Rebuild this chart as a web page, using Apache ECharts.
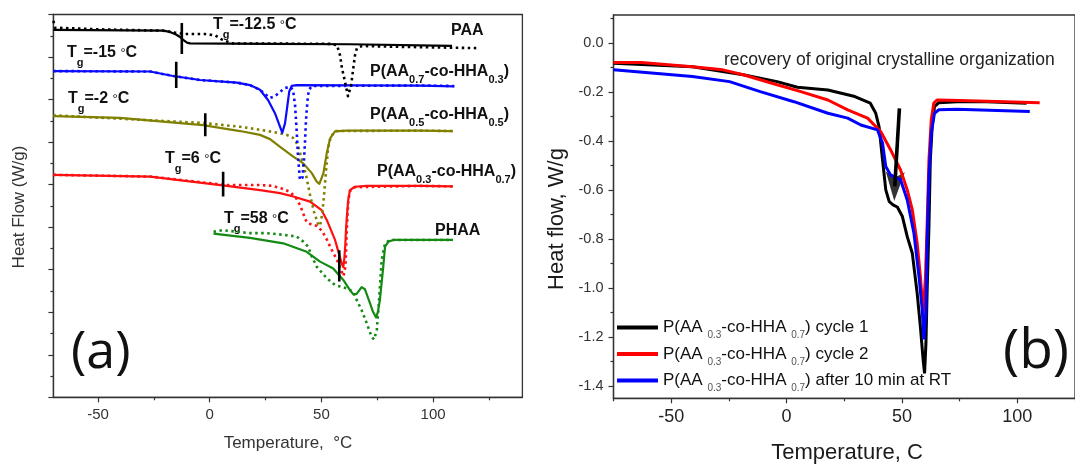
<!DOCTYPE html>
<html>
<head>
<meta charset="utf-8">
<script src="https://cdn.jsdelivr.net/npm/echarts@6/dist/echarts.min.js"></script>
<style>
  html, body { margin: 0; padding: 0; background: #fff; }
  #chart { width: 1075px; height: 465px; }
</style>
</head>
<body>
<div id="chart"></div>
<script>
// ---------- Panel (a): DSC heating traces, offset for clarity [T (°C), heat flow (a.u.)] ----------
const paaSolid = [[-70,8.64],[-20.9,8.62],[-17.8,8.59],[-15.1,8.53],[-13.3,8.47],[-12.0,8.41],[-10.2,8.34],[-8.8,8.32],[27.0,8.31],[62.8,8.30],[108.5,8.26]];
const paaDotted = [[-70,8.85],[-69.3,8.69],[-49.1,8.65],[-20.9,8.62],[-15.1,8.57],[-11.1,8.54],[-2.1,8.54],[2.4,8.51],[5.5,8.41],[10.0,8.32],[53.9,8.31],[57.0,8.28],[58.3,8.05],[59.2,7.74],[60.6,7.41],[61.9,7.08],[63.3,7.34],[64.2,7.70],[65.0,8.03],[65.9,8.21],[68.2,8.26],[85.2,8.24],[119.7,8.21]];

const aa07Solid = [[-70,7.67],[-26.7,7.66],[-17.0,7.56],[-4.4,7.46],[12.1,7.40],[18.0,7.34],[22.5,7.23],[26.1,6.99],[29.2,6.68],[31.5,6.36],[32.5,6.22],[33.7,6.44],[34.7,6.83],[35.6,7.19],[36.7,7.32],[38.9,7.34],[94.2,7.33],[109.6,7.31]];
const aa07Dotted = [[-70,7.67],[-26.7,7.66],[-17.0,7.56],[-4.4,7.46],[12.1,7.40],[18.0,7.34],[22.5,7.23],[24.7,7.13],[27.0,7.04],[29.2,7.08],[31.5,7.18],[33.7,7.27],[35.9,7.30],[37.3,7.23],[38.2,6.87],[38.9,6.29],[39.5,5.70],[40.0,5.35],[40.4,5.11],[41.5,5.16],[42.2,5.58],[42.7,6.05],[43.1,6.52],[43.8,6.99],[44.4,7.23],[45.8,7.32],[94.2,7.33],[109.4,7.32]];

const aa05Solid = [[-70,6.61],[-40.2,6.57],[-3.0,6.40],[13.6,6.26],[22.5,6.17],[27.0,6.07],[31.5,5.89],[37.4,5.66],[41.9,5.50],[45.7,5.27],[47.9,5.07],[49.1,5.02],[50.9,5.27],[52.4,5.74],[53.9,6.09],[56.1,6.25],[61.3,6.27],[94.2,6.27],[108.9,6.26]];
const aa05Dotted = [[-70,6.63],[-3.0,6.45],[13.6,6.36],[22.5,6.29],[28.3,6.24],[34.5,6.17],[37.3,6.10],[39.5,5.93],[41.3,5.58],[43.1,5.23],[44.9,4.76],[46.7,4.36],[48.5,4.07],[49.4,4.03],[50.3,4.29],[51.2,4.76],[52.1,5.34],[53.0,5.86],[54.3,6.14],[56.5,6.26],[94.2,6.27],[108.9,6.26]];

const aa03Solid = [[-70,5.23],[-26.7,5.19],[7.6,4.97],[22.5,4.87],[31.5,4.80],[37.4,4.72],[44.9,4.60],[50.1,4.40],[52.4,4.17],[54.3,3.93],[56.1,3.70],[57.4,3.46],[58.3,3.30],[59.2,3.13],[59.8,3.06],[60.3,3.28],[60.7,3.58],[61.0,3.93],[61.3,4.17],[62.0,4.64],[62.8,4.87],[65.0,4.95],[70.3,4.97],[94.2,4.97],[108.9,4.96]];
const aa03Dotted = [[-70,5.23],[-26.7,5.19],[7.6,4.99],[22.5,4.99],[28.3,4.97],[32.2,4.91],[35.9,4.83],[38.6,4.69],[40.4,4.52],[41.8,4.33],[43.4,4.12],[45.8,4.05],[48.0,4.03],[50.3,3.91],[52.5,3.70],[54.7,3.46],[57.0,3.23],[58.8,2.99],[59.9,2.85],[60.8,3.09],[61.2,3.70],[61.7,4.29],[62.1,4.64],[62.8,4.85],[65.0,4.94],[94.2,4.97],[108.9,4.96]];

const phaaSolid = [[1.7,3.85],[18.0,3.75],[32.9,3.62],[43.4,3.42],[49.4,3.19],[55.3,3.03],[59.8,2.76],[62.8,2.52],[64.3,2.42],[65.8,2.43],[68.0,2.59],[69.5,2.54],[71.8,2.21],[73.1,2.01],[74.5,1.88],[75.3,2.01],[76.2,2.29],[77.7,3.07],[78.5,3.54],[80.0,3.66],[82.2,3.70],[108.9,3.70]];
const phaaDotted = [[1.7,3.89],[5.5,3.93],[18.0,3.86],[25.5,3.86],[32.9,3.82],[38.9,3.78],[41.9,3.66],[44.1,3.54],[45.7,3.31],[47.9,3.07],[52.4,2.80],[56.1,2.64],[61.3,2.56],[64.3,2.48],[65.8,2.29],[68.0,2.05],[70.3,1.74],[72.5,1.42],[73.6,1.36],[74.8,1.58],[75.5,2.05],[76.2,2.60],[77.0,3.23],[78.5,3.62],[80.7,3.70],[108.9,3.70]];

// Glass transition markers (°C) and the vertical extent of each marker bar
const tgTemps = [-12.5, -15, -2, 6, 58];
const tgLow   = [8.07, 7.27, 6.14, 4.72, 2.72];
const tgHigh  = [8.80, 7.89, 6.68, 5.30, 3.46];
const tgLabels = ['-12.5', '-15', '-2', '6', '58'];

// Axis ticks for panel (a)
const aMajorX = [-50, 0, 50, 100];
const aMinorX = [-25, 25, 75, 125];

// ---------- Panel (b): P(AA0.3-co-HHA0.7) repeated scans [T (°C), W/g] ----------
const bCycle1 = [[-75,-0.082],[-40.8,-0.096],[-18.8,-0.129],[-4.1,-0.157],[4.7,-0.180],[17.9,-0.191],[29.6,-0.218],[36.3,-0.245],[38.6,-0.285],[40.1,-0.342],[41.6,-0.477],[43.0,-0.599],[44.5,-0.647],[46.3,-0.661],[48.0,-0.669],[50.2,-0.708],[52.3,-0.790],[54.5,-0.858],[56.6,-1.021],[58.0,-1.158],[59.2,-1.294],[59.8,-1.348],[60.4,-1.226],[60.9,-1.021],[61.7,-0.749],[62.3,-0.477],[63.1,-0.341],[64.1,-0.259],[66.0,-0.243],[73.8,-0.239],[86.7,-0.239],[104.0,-0.245]];
const bCycle2 = [[-75,-0.079],[-63.0,-0.079],[-40.8,-0.096],[-27.6,-0.109],[-18.8,-0.129],[-4.1,-0.170],[6.2,-0.198],[17.9,-0.232],[26.5,-0.272],[35.1,-0.306],[40.8,-0.361],[45.1,-0.436],[49.4,-0.518],[52.3,-0.599],[54.5,-0.681],[56.6,-0.817],[58.0,-0.953],[59.2,-1.103],[60.2,-0.953],[60.9,-0.749],[61.7,-0.477],[62.7,-0.313],[63.8,-0.245],[65.2,-0.232],[75.3,-0.234],[109.7,-0.243]];
const bAfterRT = [[-75,-0.109],[-40.8,-0.136],[-24.7,-0.157],[-11.4,-0.198],[3.2,-0.239],[17.9,-0.286],[26.5,-0.306],[32.2,-0.334],[39.4,-0.354],[41.6,-0.408],[43.0,-0.504],[45.1,-0.538],[49.4,-0.558],[52.3,-0.640],[55.2,-0.776],[57.4,-0.953],[58.8,-1.089],[59.5,-1.210],[60.4,-1.089],[60.9,-0.817],[61.7,-0.545],[62.7,-0.368],[64.1,-0.286],[66.0,-0.272],[73.8,-0.270],[105.4,-0.279]];
const bSeriesNames = ['cycle 1', 'cycle 2', 'after 10 min at RT'];

// Annotation arrow: tail and head (°C, W/g)
const arrowTail = [48.9, -0.266];
const arrowHead = [46.9, -0.585];

// Axis ticks for panel (b)
const bMajorX = [-50, 0, 50, 100];
const bMinorX = [-75, -25, 25, 75, 125];
const bLabelY = [0, -0.2, -0.4, -0.6, -0.8, -1.0, -1.2, -1.4];
const bMinorY = [0.1, -0.1, -0.3, -0.5, -0.7, -0.9, -1.1, -1.3];

// ---------- styling helpers ----------
const F = '"Liberation Sans", Arial, Helvetica, sans-serif';
const AX = '#333';
const DOT = [2.5, 3.5];

function trace(data, color, dotted, width) {
  return {
    type: 'line', xAxisIndex: 0, yAxisIndex: 0, data: data,
    symbol: 'none', silent: true,
    lineStyle: { color: color, width: width || (dotted ? 2.6 : 2.2), type: dotted ? DOT : 'solid', join: 'round' }
  };
}

const series = [];
// drawn from bottom layer to top layer
series.push(trace(phaaDotted, '#148a14', true), trace(phaaSolid, '#148a14', false));
series.push(trace(aa03Dotted, '#ff1010', true), trace(aa03Solid, '#ff1010', false));
series.push(trace(aa05Dotted, '#808000', true), trace(aa05Solid, '#808000', false));
series.push(trace(aa07Dotted, '#0a0aff', true), trace(aa07Solid, '#0a0aff', false));
series.push(trace(paaDotted, '#000', true), trace(paaSolid, '#000', false));

tgTemps.forEach(function (t, i) {
  series.push({
    type: 'line', xAxisIndex: 0, yAxisIndex: 0, symbol: 'none', silent: true,
    data: [[t, tgLow[i]], [t, tgHigh[i]]],
    lineStyle: { color: '#000', width: 2.6 }
  });
});

const bData = [bCycle1, bCycle2, bAfterRT];
const bColors = ['#000', '#ff0000', '#0000ff'];
bData.forEach(function (d, i) {
  series.push({
    name: bSeriesNames[i], type: 'line', xAxisIndex: 2, yAxisIndex: 1,
    data: d, symbol: 'none', silent: true,
    lineStyle: { color: bColors[i], width: 3 }, itemStyle: { color: bColors[i] }
  });
});
// arrow pointing at the recovered shoulder: shaft + head
series.push({
  type: 'line', xAxisIndex: 2, yAxisIndex: 1, symbol: 'none', silent: true,
  data: [arrowTail, arrowHead],
  lineStyle: { color: '#000', width: 3.6 }
});
series.push({
  type: 'scatter', xAxisIndex: 2, yAxisIndex: 1, silent: true,
  data: [arrowHead],
  symbol: 'path://M5,0 L10,16 L5,13 L0,16 Z', symbolSize: [19, 29], symbolRotate: 178,
  itemStyle: { color: '#000' }
});

// ---------- rich text pieces ----------
const tgRich = {
  m: { fontSize: 16, fontWeight: 'bold', fontFamily: F, fill: '#111', lineHeight: 30, verticalAlign: 'middle' },
  s: { fontSize: 11, fontWeight: 'bold', fontFamily: F, fill: '#111', lineHeight: 10, verticalAlign: 'bottom' },
  d: { fontSize: 13, fontWeight: 'normal', fontFamily: F, fill: '#111', lineHeight: 30, verticalAlign: 'middle' }
};
const nameRich = {
  m: { fontSize: 16, fontWeight: 'bold', fontFamily: F, fill: '#111', lineHeight: 26, verticalAlign: 'middle' },
  t: { fontSize: 11, fontWeight: 'bold', fontFamily: F, fill: '#111', lineHeight: 10, verticalAlign: 'bottom' }
};
function tgText(v) { return '{m|T}{s|g}{m|=' + v + ' }{d|°}{m|C}'; }
function copolymer(a, b) { return '{m|P(AA}{t|' + a + '}{m|-co-HHA}{t|' + b + '}{m|)}'; }

function txt(x, y, style, extra) {
  return Object.assign({ type: 'text', x: x, y: y, silent: true,
    style: Object.assign({ align: 'left', verticalAlign: 'middle', fill: '#111', fontFamily: F }, style) }, extra || {});
}

const graphic = [
  // axis titles
  txt(19, 207, { text: 'Heat Flow (W/g)', fontSize: 17, fill: '#333', align: 'center' }, { rotation: Math.PI / 2 }),
  txt(288, 443, { text: 'Temperature,  °C', fontSize: 17, fill: '#333', align: 'center' }),
  txt(557, 219, { text: 'Heat flow, W/g', fontSize: 22, fill: '#1a1a1a', align: 'center' }, { rotation: Math.PI / 2 }),
  txt(847, 453, { text: 'Temperature, C', fontSize: 22, fill: '#1a1a1a', align: 'center' }),
  // panel letters
  txt(71, 353, { text: '(a)', fontSize: 52, fontFamily: '"Open Sans", sans-serif', fill: '#111' }),
  txt(1003, 352, { text: '(b)', fontSize: 55, fontFamily: '"Open Sans", sans-serif', fill: '#111' }),
  // note in panel (b)
  txt(724, 60, { text: 'recovery of original crystalline organization', fontSize: 17.5, fill: '#222' }),
  // Tg annotations
  txt(213, 25, { text: tgText(tgLabels[0]), rich: tgRich }),
  txt(67, 53, { text: tgText(tgLabels[1]), rich: tgRich }),
  txt(68, 99, { text: tgText(tgLabels[2]), rich: tgRich }),
  txt(165, 159, { text: tgText(tgLabels[3]), rich: tgRich }),
  txt(224, 219, { text: tgText(tgLabels[4]), rich: tgRich }),
  // sample names
  txt(451, 31, { text: 'PAA', fontSize: 16, fontWeight: 'bold' }),
  txt(370, 72, { text: copolymer('0.7', '0.3'), rich: nameRich }),
  txt(370, 115, { text: copolymer('0.5', '0.5'), rich: nameRich }),
  txt(377, 172, { text: copolymer('0.3', '0.7'), rich: nameRich }),
  txt(435, 231, { text: 'PHAA', fontSize: 16, fontWeight: 'bold' })
];

const axisLineStyle = { show: true, onZero: false, lineStyle: { color: AX, width: 1.3 } };
const hiddenLine = { show: false, onZero: false };

const option = {
  animation: false,
  backgroundColor: '#fff',
  grid: [
    { left: 53.4, top: 14.5, width: 469, height: 382.8, show: true, borderColor: AX, borderWidth: 1.3, backgroundColor: 'transparent' },
    { left: 613.5, top: 15, width: 465.4, height: 383.3, show: true, borderColor: AX, borderWidth: 1.3, backgroundColor: 'transparent' }
  ],
  xAxis: [
    { gridIndex: 0, type: 'value', position: 'bottom', min: -70, max: 140,
      axisLine: axisLineStyle, splitLine: { show: false },
      axisTick: { show: true, customValues: aMajorX, length: 5, lineStyle: { color: AX, width: 1.2 } },
      axisLabel: { customValues: aMajorX, fontSize: 15, color: '#333', fontFamily: F, margin: 10 } },
    { gridIndex: 0, type: 'value', position: 'bottom', min: -70, max: 140,
      axisLine: hiddenLine, splitLine: { show: false }, axisLabel: { show: false },
      axisTick: { show: true, customValues: aMinorX, length: 3, lineStyle: { color: AX, width: 1.2 } } },
    { gridIndex: 1, type: 'value', position: 'bottom', min: -75, max: 125,
      axisLine: axisLineStyle, splitLine: { show: false },
      axisTick: { show: true, customValues: bMajorX, length: 5, lineStyle: { color: AX, width: 1.2 } },
      axisLabel: { customValues: bMajorX, fontSize: 18, color: '#222', fontFamily: F, margin: 10 } },
    { gridIndex: 1, type: 'value', position: 'bottom', min: -75, max: 125,
      axisLine: hiddenLine, splitLine: { show: false }, axisLabel: { show: false },
      axisTick: { show: true, customValues: bMinorX, length: 3, lineStyle: { color: AX, width: 1.2 } } }
  ],
  yAxis: [
    { gridIndex: 0, type: 'value', position: 'left', min: 0, max: 9, interval: 1,
      axisLine: axisLineStyle, splitLine: { show: false }, axisLabel: { show: false },
      axisTick: { show: true, length: 5, lineStyle: { color: AX, width: 1.2 } },
      minorTick: { show: true, splitNumber: 2, length: 3, lineStyle: { color: AX, width: 1.2 } } },
    { gridIndex: 1, type: 'value', position: 'left', min: -1.45, max: 0.115,
      axisLine: axisLineStyle, splitLine: { show: false },
      axisTick: { show: true, customValues: bLabelY, length: 5, lineStyle: { color: AX, width: 1.2 } },
      axisLabel: { customValues: bLabelY, fontSize: 14.5, color: '#333', fontFamily: F, margin: 10,
                   formatter: function (v) { return v.toFixed(1); } } },
    { gridIndex: 1, type: 'value', position: 'left', min: -1.45, max: 0.115,
      axisLine: hiddenLine, splitLine: { show: false }, axisLabel: { show: false },
      axisTick: { show: true, customValues: bMinorY, length: 3, lineStyle: { color: AX, width: 1.2 } } }
  ],
  legend: {
    data: bSeriesNames, orient: 'vertical', left: 617, top: 319, padding: 0,
    icon: 'rect', itemWidth: 41, itemHeight: 4, itemGap: 5, selectedMode: false,
    formatter: function (name) {
      return '{m|P(AA }{s|0.3}{m|-co-HHA }{s|0.7}{m|) ' + name + '}';
    },
    textStyle: {
      fontFamily: F, color: '#111', fontSize: 17,
      rich: {
        m: { fontSize: 17, fontFamily: F, color: '#111', lineHeight: 26, verticalAlign: 'middle' },
        s: { fontSize: 10, fontFamily: F, color: '#555', lineHeight: 10, verticalAlign: 'bottom' }
      }
    }
  },
  graphic: graphic,
  series: series
};

const chart = echarts.init(document.getElementById('chart'), null, { renderer: 'canvas' });
chart.setOption(option);
</script>
</body>
</html>
